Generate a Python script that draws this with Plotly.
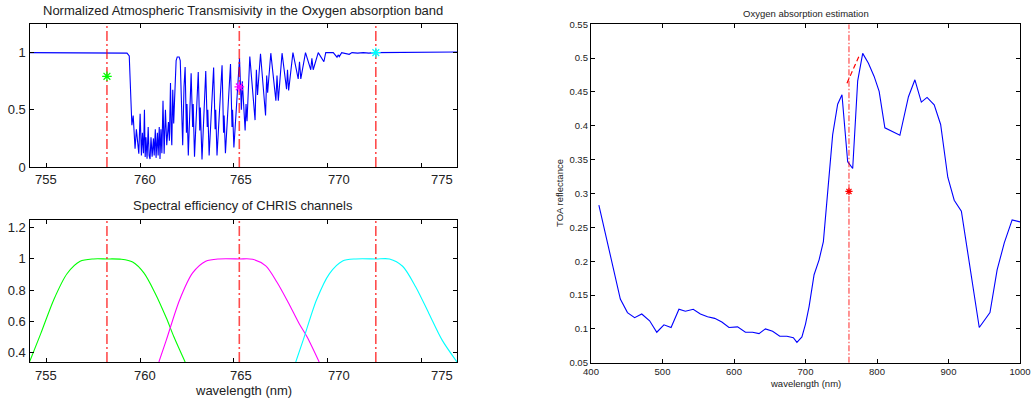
import plotly.graph_objects as go

# ---------------- data ----------------
# Top-left: normalized atmospheric transmissivity (O2 A band)
trans_wl = [754.1, 759.0, 759.3, 759.42, 759.48, 759.56, 759.63, 759.73, 759.80, 759.86,
            759.93, 760.00, 760.07, 760.12, 760.18, 760.23, 760.27, 760.31, 760.37, 760.43,
            760.48, 760.53, 760.58, 760.64, 760.71, 760.75, 760.81, 760.85, 760.92, 760.96,
            761.02, 761.06, 761.11, 761.16, 761.22, 761.28, 761.35, 761.42, 761.47, 761.51,
            761.56, 761.62, 761.66, 761.69, 761.74, 761.79, 761.84, 761.92, 761.98, 762.08,
            762.14, 762.20, 762.27, 762.34, 762.40, 762.47, 762.50, 762.57, 762.72, 762.80,
            762.83, 762.90, 763.10, 763.18, 763.21, 763.30, 763.50, 763.58, 763.61, 763.68,
            763.92, 764.00, 764.03, 764.10, 764.37, 764.45, 764.48, 764.55, 764.82, 764.90,
            764.93, 765.00, 765.30, 765.40, 765.45, 765.60, 765.65, 765.70, 765.85, 766.13,
            766.20, 766.26, 766.42, 766.69, 766.75, 766.80, 766.97, 767.24, 767.30, 767.37,
            767.57, 767.81, 767.86, 767.92, 768.15, 768.43, 768.50, 768.57, 768.82, 769.10,
            769.16, 769.23, 769.50, 769.80, 769.90, 770.30, 770.50, 770.56, 770.62, 770.75,
            771.15, 771.30, 771.60, 771.90, 772.20, 772.50, 776.9]
trans_val = [1.0, 1.0, 0.995, 0.97, 0.65, 0.365, 0.45, 0.16, 0.33, 0.19,
             0.117, 0.466, 0.10, 0.30, 0.12, 0.50, 0.087, 0.26, 0.073, 0.35,
             0.10, 0.07, 0.26, 0.09, 0.25, 0.10, 0.33, 0.08, 0.30, 0.10,
             0.35, 0.07, 0.33, 0.12, 0.58, 0.117, 0.50, 0.19, 0.30, 0.394,
             0.23, 0.735, 0.30, 0.19, 0.676, 0.38, 0.60, 0.93, 0.962, 0.962,
             0.93, 0.60, 0.19, 0.70, 0.874, 0.30, 0.55, 0.10, 0.82, 0.35,
             0.55, 0.09, 0.83, 0.32, 0.52, 0.065, 0.84, 0.35, 0.50, 0.10,
             0.87, 0.33, 0.50, 0.10, 0.89, 0.30, 0.45, 0.12, 0.90, 0.35,
             0.50, 0.17, 0.95, 0.50, 0.75, 0.32, 0.55, 0.40, 0.965, 0.41,
             0.85, 0.63, 0.99, 0.45, 0.80, 0.65, 0.995, 0.58, 0.80, 0.58,
             0.995, 0.68, 0.85, 0.67, 1.0, 0.77, 0.92, 0.77, 1.0, 0.85,
             0.95, 0.85, 1.0, 0.92, 1.0, 1.0, 0.96, 0.98, 0.965, 1.0,
             0.985, 1.0, 0.995, 1.0, 0.995, 1.0, 1.005]

# CHRIS channel centres and convolved transmissivity (stars)
band_centers = [758.23, 765.29, 772.57]
band_trans = [0.793, 0.70, 1.0]
band_colors = ["#00ff00", "#ff00ff", "#00ffff"]

# Bottom-left: spectral efficiency of CHRIS channels
green_wl = [754.1, 754.7, 755.4, 756.1, 756.8, 757.5, 758.2, 759.0, 759.6, 760.2, 760.8, 761.4, 761.8, 762.4]
green_eff = [0.338, 0.52, 0.74, 0.905, 0.985, 1.0, 1.0, 0.998, 0.98, 0.91, 0.78, 0.62, 0.50, 0.338]
magenta_wl = [761.0, 761.4, 762.1, 762.8, 763.5, 764.2, 765.3, 766.0, 766.7, 767.3, 767.9, 768.5, 768.9, 769.55]
magenta_eff = [0.338, 0.48, 0.735, 0.91, 0.985, 1.0, 1.0, 0.998, 0.955, 0.85, 0.72, 0.58, 0.50, 0.338]
cyan_wl = [768.3, 768.7, 769.4, 770.1, 770.8, 771.5, 772.6, 773.3, 774.0, 774.7, 775.4, 776.1, 776.9]
cyan_eff = [0.338, 0.48, 0.735, 0.906, 0.987, 1.0, 1.0, 1.0, 0.953, 0.82, 0.65, 0.48, 0.338]

# Right: TOA reflectance spectrum
toa_wl = [411, 441, 451, 461, 471, 482, 492, 502, 512, 523, 532, 543, 553, 563, 573, 583,
          593, 605, 616, 626, 635, 644, 654, 664, 674, 683, 688, 695, 700, 705, 712, 719,
          725, 738, 745, 751, 759, 766, 773, 780, 788, 796, 803, 811, 832, 844, 853, 862,
          870, 880, 889, 899, 908, 918, 943, 958, 968, 978, 989, 1000]
toa_ref = [0.283, 0.144, 0.124, 0.1165, 0.122, 0.112, 0.095, 0.106, 0.102, 0.129, 0.126,
           0.129, 0.122, 0.118, 0.1155, 0.110, 0.102, 0.103, 0.095, 0.095, 0.093, 0.100,
           0.0965, 0.089, 0.089, 0.087, 0.080, 0.088, 0.107, 0.133, 0.180, 0.202, 0.229,
           0.387, 0.432, 0.446, 0.347, 0.337, 0.4665, 0.507, 0.4925, 0.473, 0.451, 0.397,
           0.386, 0.443, 0.468, 0.435, 0.442, 0.431, 0.402, 0.324, 0.29, 0.274, 0.102,
           0.124, 0.187, 0.227, 0.261, 0.258]
o2_center = 760.8
o2_estimate = 0.303
cont_wl = [758, 774.5]
cont_ref = [0.463, 0.502]

# axis limits / ticks
x_left = [754.1, 776.9]
left_xticks = [755, 760, 765, 770, 775]
left_xticklabels = ["755", "760", "765", "770", "775"]
y_top = [0, 1.25]
y_bot = [0.338, 1.25]
x_right = [400, 1000]
y_right = [0.05, 0.55]

# ---------------- figure ----------------
W, H = 1034, 403
fig = go.Figure()

RED = "rgba(255,0,0,0.7)"
DASHDOT_L = "10px,3px,2px,3px"
DASHDOT_R = "6px,2px,1.5px,2px"

# top-left
fig.add_trace(go.Scatter(x=trans_wl, y=trans_val, mode="lines",
                         line=dict(color="#0000ff", width=1.1), xaxis="x", yaxis="y"))
for c in band_centers:
    fig.add_trace(go.Scatter(x=[c, c], y=y_top, mode="lines",
                             line=dict(color=RED, width=1.6, dash=DASHDOT_L), xaxis="x", yaxis="y"))
for c, t, col in zip(band_centers, band_trans, band_colors):
    fig.add_trace(go.Scatter(x=[c], y=[t], mode="markers",
                             marker=dict(symbol="asterisk-open", size=8, color=col,
                                         line=dict(color=col, width=1.3)),
                             xaxis="x", yaxis="y"))

# bottom-left
for wl, ef, col in [(green_wl, green_eff, "#00ff00"), (magenta_wl, magenta_eff, "#ff00ff"),
                    (cyan_wl, cyan_eff, "#00ffff")]:
    fig.add_trace(go.Scatter(x=wl, y=ef, mode="lines", line=dict(color=col, width=1.1, shape="spline", smoothing=0.8),
                             xaxis="x2", yaxis="y2"))
for c in band_centers:
    fig.add_trace(go.Scatter(x=[c, c], y=y_bot, mode="lines",
                             line=dict(color=RED, width=1.6, dash=DASHDOT_L), xaxis="x2", yaxis="y2"))

# right
fig.add_trace(go.Scatter(x=toa_wl, y=toa_ref, mode="lines", line=dict(color="#0000ff", width=1.1),
                         xaxis="x3", yaxis="y3"))
fig.add_trace(go.Scatter(x=[o2_center, o2_center], y=y_right, mode="lines",
                         line=dict(color=RED, width=1.2, dash=DASHDOT_R), xaxis="x3", yaxis="y3"))
fig.add_trace(go.Scatter(x=cont_wl, y=cont_ref, mode="lines",
                         line=dict(color="#ff0000", width=1.2, dash="5px,3px"), xaxis="x3", yaxis="y3"))
fig.add_trace(go.Scatter(x=[o2_center], y=[o2_estimate], mode="markers",
                         marker=dict(symbol="asterisk-open", size=6, color="#ff0000",
                                     line=dict(color="#ff0000", width=1.2)),
                         xaxis="x3", yaxis="y3"))


def px_x(a, b):
    return [a / W, b / W]


def px_y(top, bottom):
    return [1 - bottom / H, 1 - top / H]


def ax(domain, rng, fs, **kw):
    d = dict(domain=domain, range=rng, showline=True, linecolor="black", linewidth=1.3,
             mirror="allticks", ticks="inside", ticklen=4, tickcolor="black", tickwidth=1,
             showgrid=False, zeroline=False, fixedrange=True, automargin=False,
             tickfont=dict(family="Liberation Sans, Arial, sans-serif", size=fs, color="#222"))
    d.update(kw)
    return d


LFS = 13
RFS = 9.5
fig.update_layout(
    width=W, height=H, margin=dict(l=0, r=0, t=0, b=0, pad=0, autoexpand=False),
    paper_bgcolor="white", plot_bgcolor="white", showlegend=False,
    xaxis=ax(px_x(29.5, 457), x_left, LFS, anchor="y", tickvals=left_xticks, showticklabels=False),
    yaxis=ax(px_y(24, 167), y_top, LFS, anchor="x", tickvals=[0, 0.5, 1]),
    xaxis2=ax(px_x(29.5, 457), x_left, LFS, anchor="y2", tickvals=left_xticks, showticklabels=False),
    yaxis2=ax(px_y(220, 362), y_bot, LFS, anchor="x2", tickvals=[0.4, 0.6, 0.8, 1, 1.2]),
    xaxis3=ax(px_x(591, 1020), x_right, RFS, anchor="y3", dtick=100, tick0=400),
    yaxis3=ax(px_y(24.3, 362.7), y_right, RFS, anchor="x3", dtick=0.05, tick0=0.05),
)

FONT = "Liberation Sans, Arial, sans-serif"


def label(text, x, y, size, angle=0):
    fig.add_annotation(text=text, x=x / W, y=1 - y / H, xref="paper", yref="paper",
                       showarrow=False, textangle=angle, xanchor="center", yanchor="middle",
                       font=dict(family=FONT, size=size, color="#222"))


label("Normalized Atmospheric Transmisivity in the Oxygen absorption band", 243, 10, LFS)
label("Spectral efficiency of CHRIS channels", 243, 205, LFS)
label("wavelength (nm)", 243, 390, LFS)
label("Oxygen absorption estimation", 805.5, 14, RFS)
label("wavelength (nm)", 805.5, 383, RFS)
label("TOA reflectance", 559, 193, RFS, angle=-90)

# x tick labels of the left panels (placed as drawn in the original export)
LABEL_PX = [45.5, 144.5, 240.5, 338.5, 441.5]
for txt, xp in zip(left_xticklabels, LABEL_PX):
    label(txt, xp, 179, LFS)
    label(txt, xp, 375, LFS)

fig.write_html("out.html", config={"displayModeBar": False},
               post_script="document.body.style.margin='0px';document.body.style.overflow='hidden';")
